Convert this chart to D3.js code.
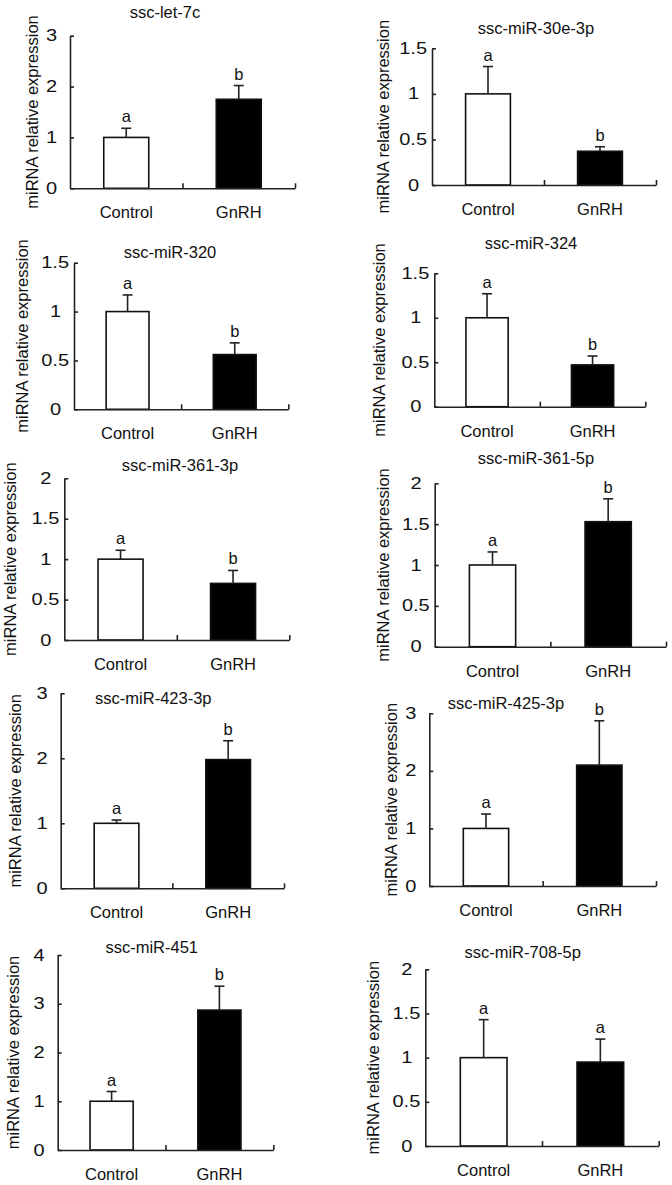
<!DOCTYPE html>
<html><head><meta charset="utf-8">
<script src="https://cdn.jsdelivr.net/npm/d3@7"></script>
<style>
html,body{margin:0;padding:0;background:#fff;}
svg{display:block;font-family:"Liberation Sans",Arial,sans-serif;}
</style></head>
<body>
<svg id="chart" width="672" height="1185"></svg>
<script>
// ---- data ----
const titles = ["ssc-let-7c","ssc-miR-30e-3p","ssc-miR-320","ssc-miR-324","ssc-miR-361-3p",
                "ssc-miR-361-5p","ssc-miR-423-3p","ssc-miR-425-3p","ssc-miR-451","ssc-miR-708-5p"];
const categories = ["Control","GnRH"];
const controlMean = [1,1,1,1,1,1,1,1,1,1];
const controlErr  = [0.18,0.30,0.17,0.27,0.11,0.16,0.05,0.25,0.20,0.43];
const gnrhMean    = [1.75,0.37,0.56,0.47,0.70,1.53,1.98,2.10,2.87,0.95];
const gnrhErr     = [0.27,0.05,0.12,0.10,0.16,0.28,0.29,0.77,0.49,0.26];
const controlLetters = ["a","a","a","a","a","a","a","a","a","a"];
const gnrhLetters    = ["b","b","b","b","b","b","b","b","b","a"];
const yMax  = [3,1.5,1.5,1.5,2,2,3,3,4,2];
const yStep = [1,0.5,0.5,0.5,0.5,0.5,1,1,1,0.5];
const yLabel = "miRNA relative expression";

// ---- layout (pixel placement of each panel) ----
const layout = [
  {x0:70,   x1:295,   yt:35.7,  yb:188.3, tx:165,   ty:12,    lx:32},
  {x0:432,  x1:656,   yt:48.3,  yb:185,   tx:536,   ty:28,    lx:382.7},
  {x0:74,   x1:288.3, yt:262.7, yb:409.3, tx:170,   ty:251.7, lx:22},
  {x0:434.3,x1:645.3, yt:273.3, yb:406.7, tx:531,   ty:243.3, lx:379.3},
  {x0:64.3, x1:289.3, yt:478.3, yb:640,   tx:180,   ty:465,   lx:10},
  {x0:434.7,x1:666,   yt:483.3, yb:646.7, tx:536,   ty:458.3, lx:382.7},
  {x0:60.7, x1:284,   yt:693.3, yb:888.3, tx:153.3, ty:698.3, lx:15},
  {x0:429.3,x1:656,   yt:713.3, yb:886,   tx:506,   ty:702.7, lx:391},
  {x0:57.7, x1:273.3, yt:955,   yb:1150,  tx:151.7, ty:946.7, lx:13.3},
  {x0:425.3,x1:658.7, yt:969.3, yb:1146,  tx:522.7, ty:951.7, lx:373.3}
];

const svg = d3.select("#chart");
const ink = "#222";
const tickStretch = 1.25;

titles.forEach((title, i) => {
  const L = layout[i];
  const g = svg.append("g");
  const x = d3.scaleBand().domain(categories).range([L.x0, L.x1]).paddingInner(0.6).paddingOuter(0.3);
  const y = d3.scaleLinear().domain([0, yMax[i]]).range([L.yb, L.yt]);
  const rows = [
    {cat:"Control", mean:controlMean[i], err:controlErr[i], letter:controlLetters[i], fill:"#fff"},
    {cat:"GnRH",    mean:gnrhMean[i],    err:gnrhErr[i],    letter:gnrhLetters[i],    fill:"#000"}
  ];

  // bars
  g.selectAll("rect.bar").data(rows).join("rect")
    .attr("x", d => x(d.cat)).attr("width", x.bandwidth())
    .attr("y", d => y(d.mean)).attr("height", d => y(0) - y(d.mean))
    .attr("fill", d => d.fill).attr("stroke", "#111").attr("stroke-width", 1.6);

  // error bars (upper only)
  const cx = d => x(d.cat) + x.bandwidth()/2;
  g.selectAll("line.err").data(rows).join("line")
    .attr("x1", cx).attr("x2", cx)
    .attr("y1", d => y(d.mean)).attr("y2", d => y(d.mean + d.err))
    .attr("stroke", ink).attr("stroke-width", 1.6);
  g.selectAll("line.cap").data(rows).join("line")
    .attr("x1", d => cx(d) - 5).attr("x2", d => cx(d) + 5)
    .attr("y1", d => y(d.mean + d.err)).attr("y2", d => y(d.mean + d.err))
    .attr("stroke", ink).attr("stroke-width", 1.6);

  // significance letters
  g.selectAll("text.letter").data(rows).join("text")
    .attr("x", cx).attr("y", d => y(d.mean + d.err) - 6)
    .attr("text-anchor", "middle").attr("font-size", 16.5).attr("fill", "#111")
    .text(d => d.letter);

  // y axis
  const ticks = d3.range(0, yMax[i] + yStep[i]/2, yStep[i]);
  const ya = g.append("g").attr("transform", `translate(${L.x0},0)`)
    .call(d3.axisLeft(y).tickValues(ticks).tickFormat(d3.format("")).tickSizeInner(-4).tickSizeOuter(0).tickPadding(0));
  ya.select(".domain").attr("stroke", ink).attr("stroke-width", 1.6);
  ya.selectAll(".tick line").attr("stroke", ink).attr("stroke-width", 1.6);
  ya.selectAll(".tick text")
    .attr("font-size", 16).attr("fill", "#111").attr("font-family", null)
    .attr("text-anchor", "end")
    .attr("x", d => -(Number.isInteger(d) ? 13 : 5) / tickStretch)
    .attr("transform", `scale(${tickStretch},1)`);

  // x axis
  const xl = d3.scaleLinear().domain([0, categories.length]).range([L.x0, L.x1]);
  const xa = g.append("g").attr("transform", `translate(0,${L.yb})`)
    .call(d3.axisBottom(xl).tickValues(d3.range(1, categories.length + 1)).tickFormat("").tickSizeInner(-5).tickSizeOuter(0));
  xa.select(".domain").attr("stroke", ink).attr("stroke-width", 1.6);
  xa.selectAll(".tick line").attr("stroke", ink).attr("stroke-width", 1.6);

  // category labels
  g.selectAll("text.cat").data(categories).join("text")
    .attr("x", d => x(d) + x.bandwidth()/2).attr("y", L.yb + 30)
    .attr("text-anchor", "middle").attr("font-size", 16.5).attr("fill", "#111")
    .text(d => d);

  // title
  g.append("text").attr("x", L.tx).attr("y", L.ty + 6)
    .attr("text-anchor", "middle").attr("font-size", 16.5).attr("fill", "#111")
    .text(title);

  // y label
  g.append("text")
    .attr("transform", `translate(${L.lx + 6},${(L.yt + L.yb)/2}) rotate(-90)`)
    .attr("text-anchor", "middle").attr("font-size", 16.5).attr("fill", "#111")
    .text(yLabel);
});
</script>
</body></html>
